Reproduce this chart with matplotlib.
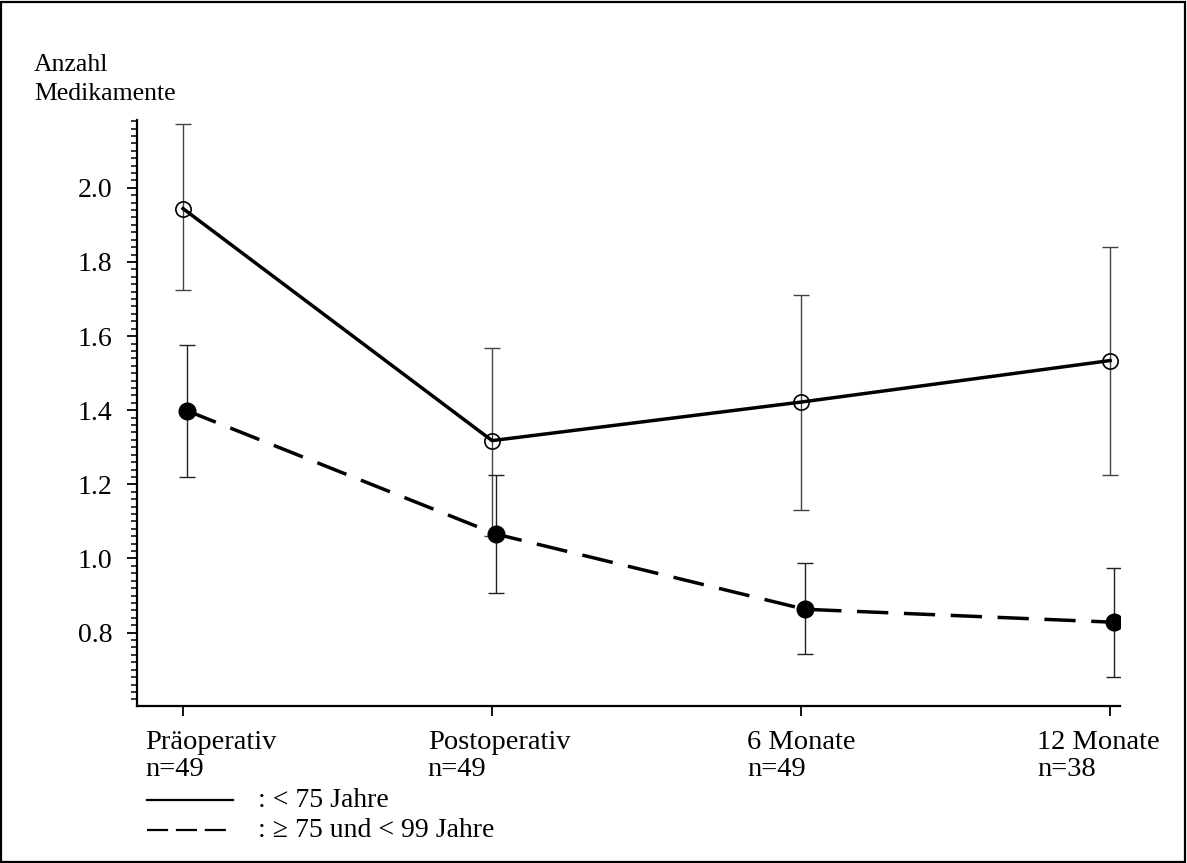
import matplotlib
matplotlib.use("Agg")
import matplotlib.pyplot as plt
import matplotlib.transforms as mtransforms
from matplotlib.lines import Line2D
from matplotlib.patches import Rectangle
from matplotlib.ticker import MultipleLocator, FixedLocator
import numpy as np

# ---- data ----
categories = ["Präoperativ", "Postoperativ", "6 Monate", "12 Monate"]
n_labels = ["n=49", "n=49", "n=49", "n=38"]

young_mean = [1.944, 1.318, 1.422, 1.534]
young_low = [1.724, 1.061, 1.132, 1.225]
young_high = [2.171, 1.569, 1.710, 1.841]

old_mean = [1.399, 1.066, 0.863, 0.828]
old_low = [1.219, 0.906, 0.742, 0.679]
old_high = [1.575, 1.224, 0.989, 0.973]

legend_labels = [": < 75 Jahre", ": \u2265 75 und < 99 Jahre"]
y_label = "Anzahl\nMedikamente"
y_ticks = [0.8, 1.0, 1.2, 1.4, 1.6, 1.8, 2.0]

plt.rcParams["font.family"] = ["Liberation Serif", "DejaVu Serif"]

W, H = 1187, 863
fig = plt.figure(figsize=(W / 100, H / 100), dpi=100)
fig.patch.set_facecolor("white")

# figure border
fig.patches.append(Rectangle((1 / W, 1 / H), 1 - 3 / W, 1 - 3 / H, transform=fig.transFigure,
                             fill=False, edgecolor="black", linewidth=1.6, zorder=10))

ax = fig.add_axes([137 / W, 1 - 706 / H, (1120 - 137) / W, (706 - 120) / H])
x = np.arange(len(categories))
x_old = x + 0.012

yerr_young = [np.array(young_mean) - np.array(young_low), np.array(young_high) - np.array(young_mean)]
yerr_old = [np.array(old_mean) - np.array(old_low), np.array(old_high) - np.array(old_mean)]

ax.errorbar(x, young_mean, yerr=yerr_young, fmt="none", ecolor="#444444", elinewidth=1.0,
            capsize=5.5, capthick=1.0, zorder=2)
ax.errorbar(x_old, old_mean, yerr=yerr_old, fmt="none", ecolor="#222222", elinewidth=1.0,
            capsize=5.5, capthick=1.0, zorder=2)

ax.plot(x, young_mean, color="black", linewidth=2.5, linestyle="-", zorder=3)
ax.plot(x, young_mean, linestyle="none", marker="o", markersize=11, markerfacecolor="none",
        markeredgecolor="black", markeredgewidth=1.2, zorder=4)
ax.plot(x_old, old_mean, color="black", linewidth=2.5, linestyle=(0, (9, 4.5)), zorder=3)
ax.plot(x_old, old_mean, linestyle="none", marker="o", markersize=12, markerfacecolor="black",
        markeredgecolor="black", zorder=4)

ax.set_xlim(-0.149, 3.032)
ax.set_ylim(0.602, 2.183)

for s in ["top", "right"]:
    ax.spines[s].set_visible(False)
for s in ["left", "bottom"]:
    ax.spines[s].set_linewidth(1.6)

ax.yaxis.set_major_locator(FixedLocator(y_ticks))
ax.yaxis.set_minor_locator(MultipleLocator(0.02))
ax.set_yticklabels([f"{v:.1f}" for v in y_ticks])
ax.tick_params(axis="y", which="major", direction="out", length=7.5, width=1.3,
               labelsize=20, pad=10)
ax.tick_params(axis="y", which="minor", direction="out", length=4.5, width=1.1)
ax.set_xticks(x)
ax.set_xticklabels([""] * len(categories))
ax.tick_params(axis="x", which="major", direction="out", length=7, width=1.3)

# x category labels
trans = mtransforms.blended_transform_factory(ax.transData, fig.transFigure)
offsets_px = [-38, 7, 0, 50]
aligns = ["left", "center", "center", "right"]
for i, (c, nl) in enumerate(zip(categories, n_labels)):
    off = mtransforms.ScaledTranslation(offsets_px[i] / 100, 0, fig.dpi_scale_trans)
    ax.text(x[i], 1 - 730 / H, c + "\n" + nl, transform=trans + off, ha=aligns[i], va="top",
            multialignment="left", fontsize=20.5, linespacing=1.12, clip_on=False)

# y label
fig.text(34 / W, 1 - 54 / H, y_label, ha="left", va="top", fontsize=18.5, linespacing=1.4)

# legend
leg_rows_y = [800, 830]
styles = ["-", (0, (9.5, 3.5))]
for yy, st, lab in zip(leg_rows_y, styles, legend_labels):
    fig.add_artist(Line2D([147 / W, 233 / W], [1 - yy / H, 1 - yy / H], transform=fig.transFigure,
                          color="black", linewidth=1.6, linestyle=st))
    fig.text(258 / W, 1 - yy / H, lab, ha="left", va="center", fontsize=20)

fig.savefig("out.png", dpi=100, facecolor="white")
